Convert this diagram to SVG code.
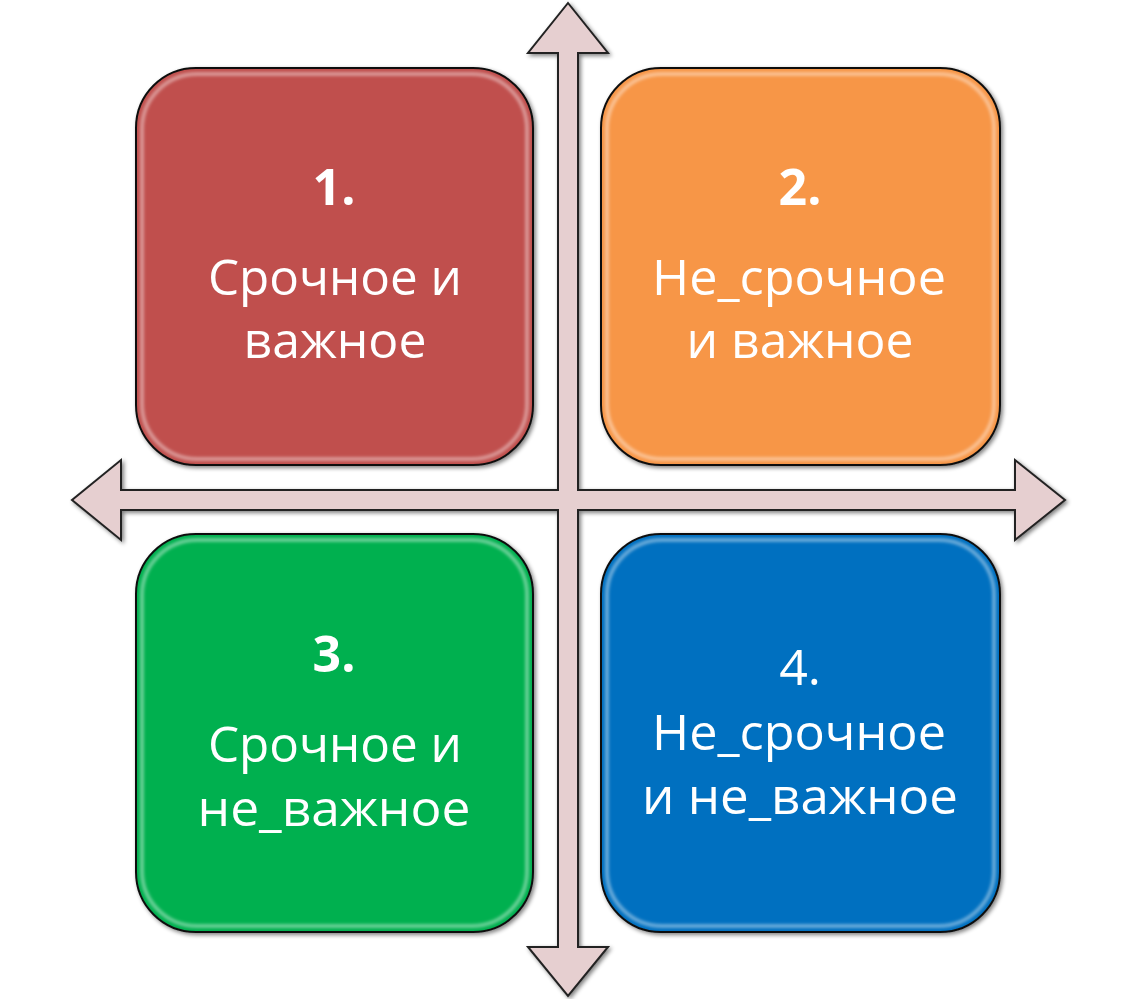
<svg xmlns="http://www.w3.org/2000/svg" width="1134" height="999" viewBox="0 0 1134 999">
<defs>
<style>
.t{font-family:"Open Sans","DejaVu Sans",sans-serif;font-size:50px;fill:#fff;text-anchor:middle}
.b{font-weight:bold}
.box{stroke:#111;stroke-width:2}
.gl{fill:none;stroke:#fff;stroke-width:4;stroke-opacity:0.4}
</style>
<filter id="sh" x="-5%" y="-5%" width="115%" height="115%">
<feGaussianBlur in="SourceAlpha" stdDeviation="2"/>
<feOffset dx="2" dy="2" result="o"/>
<feComponentTransfer><feFuncA type="linear" slope="0.5"/></feComponentTransfer>
<feMerge><feMergeNode/><feMergeNode in="SourceGraphic"/></feMerge>
</filter>
<filter id="bl"><feGaussianBlur stdDeviation="1.5"/></filter>
</defs>
<g id="connectors">
<path filter="url(#sh)" fill="#E6CFD0" stroke="#222" stroke-width="2" stroke-linejoin="miter" d="M568,3 L608,53 L578,53 L578,490 L1015,490 L1015,460 L1065,500 L1015,540 L1015,510 L578,510 L578,947 L608,947 L568,996 L528,947 L558,947 L558,510 L121,510 L121,540 L72,500 L121,460 L121,490 L558,490 L558,53 L528,53 Z"/>
</g>
<g id="box1">
<rect class="box" filter="url(#sh)" x="136" y="68" width="397" height="397" rx="60" fill="#C0504D"/>
<rect class="gl" filter="url(#bl)" x="142" y="74" width="385" height="385" rx="55"/>
<text class="t b" x="334" y="205">1.</text>
<text class="t" x="335" y="295" textLength="254" lengthAdjust="spacingAndGlyphs">Срочное и</text>
<text class="t" x="335" y="358" textLength="183" lengthAdjust="spacingAndGlyphs">важное</text>
</g>
<g id="box2">
<rect class="box" filter="url(#sh)" x="601" y="68" width="399" height="397" rx="60" fill="#F79646"/>
<rect class="gl" filter="url(#bl)" x="607" y="74" width="387" height="385" rx="55"/>
<text class="t b" x="800" y="205">2.</text>
<text class="t" x="799" y="295" textLength="294" lengthAdjust="spacingAndGlyphs">Не_срочное</text>
<text class="t" x="800" y="358" textLength="227" lengthAdjust="spacingAndGlyphs">и важное</text>
</g>
<g id="box3">
<rect class="box" filter="url(#sh)" x="136" y="534" width="397" height="398" rx="60" fill="#00B050"/>
<rect class="gl" filter="url(#bl)" x="142" y="540" width="385" height="386" rx="55"/>
<text class="t b" x="334" y="672">3.</text>
<text class="t" x="335" y="762" textLength="254" lengthAdjust="spacingAndGlyphs">Срочное и</text>
<text class="t" x="334" y="826" textLength="273" lengthAdjust="spacingAndGlyphs">не_важное</text>
</g>
<g id="box4">
<rect class="box" filter="url(#sh)" x="601" y="534" width="399" height="398" rx="60" fill="#0070C0"/>
<rect class="gl" filter="url(#bl)" x="607" y="540" width="387" height="386" rx="55"/>
<text class="t" x="800" y="685">4.</text>
<text class="t" x="799" y="750" textLength="294" lengthAdjust="spacingAndGlyphs">Не_срочное</text>
<text class="t" x="800" y="814" textLength="316" lengthAdjust="spacingAndGlyphs">и не_важное</text>
</g>
</svg>
